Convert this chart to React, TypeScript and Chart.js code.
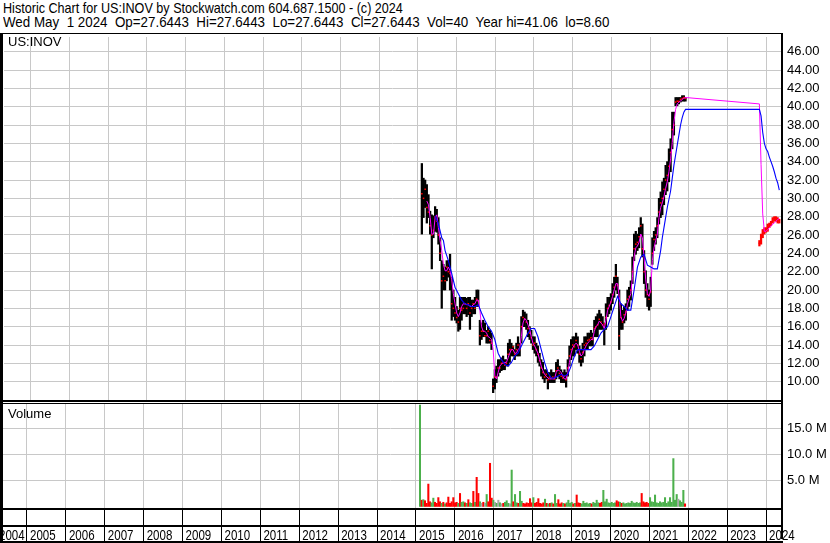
import React, { useEffect, useRef } from "react";
import { Chart, registerables } from "chart.js";

Chart.register(...registerables);

// ---------- text ----------
const TITLE_LINE_1 = "Historic Chart for US:INOV by Stockwatch.com 604.687.1500 - (c) 2024";
const TITLE_LINE_2 =
  "Wed May  1 2024  Op=27.6443  Hi=27.6443  Lo=27.6443  Cl=27.6443  Vol=40  Year hi=41.06  lo=8.60";
const SYMBOL = "US:INOV";
const VOLUME_LABEL = "Volume";

// ---------- axes ----------
const YEARS = [2004, 2005, 2006, 2007, 2008, 2009, 2010, 2011, 2012, 2013, 2014, 2015, 2016, 2017, 2018, 2019, 2020, 2021, 2022, 2023, 2024];
const PRICE_TICKS = [10, 12, 14, 16, 18, 20, 22, 24, 26, 28, 30, 32, 34, 36, 38, 40, 42, 44, 46];
const VOLUME_TICKS = [5, 10, 15];
const X_MIN = 2004.306;
const X_MAX = 2024.409;
const PRICE_MIN = 8;
const PRICE_MAX = 47.6;
const VOL_MIN = -0.3;
const VOL_MAX = 19.7;

// ---------- sampling dates (decimal years, roughly every two weeks) ----------
const MAIN_START = 2015.103;
const LATE_START = 2023.825;
const SAMPLE_STEP = 0.04285;

// ---------- main trading period (2015 - 2021) ----------
const MAIN_HIGH = [
  33.8, 32.2, 32.0, 31.5, 30.4, 28.6, 28.2, 28.1, 29.1, 28.8,
  27.9, 25.7, 23.2, 22.8, 22.5, 23.2, 23.2, 23.9, 21.4, 20.0,
  19.2, 18.2, 17.8, 19.2, 19.2, 19.2, 19.2, 19.1, 19.2, 19.2,
  18.9, 18.9, 19.2, 20.0, 20.0, 16.7, 16.4, 16.7, 16.4, 15.6,
  16.0, 15.6, 15.3, 10.3, 11.3, 11.7, 12.4, 12.4, 12.6, 12.8,
  12.4, 12.4, 14.2, 14.6, 14.2, 13.9, 13.5, 14.2, 14.9, 14.2,
  17.1, 17.8, 17.6, 17.4, 16.7, 16.0, 15.6, 14.9, 14.9, 14.2,
  13.9, 13.1, 12.4, 12.1, 11.3, 11.3, 11.0, 11.0, 11.3, 11.0,
  11.0, 12.1, 12.4, 11.7, 11.3, 11.0, 11.3, 11.0, 12.4, 13.9,
  14.6, 14.9, 14.9, 15.3, 14.9, 13.9, 13.5, 14.2, 14.9, 14.9,
  15.3, 15.3, 15.6, 15.3, 16.7, 17.1, 17.4, 17.8, 17.4, 17.1,
  16.4, 18.5, 19.2, 19.2, 19.6, 20.7, 21.4, 22.8, 21.4, 20.0,
  18.5, 17.8, 18.2, 18.5, 20.0, 20.3, 21.0, 23.6, 26.1, 26.4,
  26.1, 26.8, 27.9, 27.2, 24.3, 22.1, 20.7, 20.0, 21.4, 25.7,
  26.4, 26.8, 27.9, 30.0, 30.7, 31.8, 32.2, 33.6, 34.0, 35.4,
  36.5, 39.4, 39.4, 41.0, 41.0, 41.0, 41.0, 41.2, 41.2, 41.0,
];
const MAIN_LOW = [
  26.1, 27.9, 29.0, 27.3, 27.9, 26.1, 22.3, 25.7, 26.4, 26.3,
  25.0, 23.2, 18.0, 20.0, 20.0, 21.0, 21.4, 20.0, 16.7, 17.1,
  16.7, 16.4, 15.5, 15.7, 16.7, 17.4, 17.4, 17.1, 17.3, 15.7,
  17.1, 17.4, 17.4, 18.2, 18.2, 14.0, 14.6, 14.9, 14.9, 14.2,
  14.2, 14.2, 13.5, 8.8, 9.2, 9.9, 10.6, 11.0, 11.2, 11.3,
  11.3, 11.7, 11.7, 12.1, 12.8, 12.8, 12.4, 12.8, 12.8, 12.8,
  14.2, 16.0, 16.0, 15.7, 14.9, 14.6, 14.2, 13.5, 13.1, 12.8,
  12.1, 11.7, 10.6, 10.3, 9.9, 10.3, 9.2, 9.9, 9.9, 9.9,
  9.9, 10.3, 10.6, 10.3, 9.9, 9.9, 9.9, 9.4, 10.6, 11.7,
  12.4, 12.8, 12.8, 13.5, 13.1, 12.1, 11.7, 12.1, 12.8, 13.5,
  13.5, 13.9, 13.9, 13.9, 14.9, 14.9, 14.9, 15.7, 15.7, 15.7,
  14.0, 15.7, 17.1, 17.4, 17.8, 18.5, 19.2, 20.0, 19.6, 13.5,
  15.7, 15.7, 16.4, 16.7, 17.8, 18.2, 18.9, 20.7, 23.2, 23.9,
  24.3, 24.6, 26.1, 23.6, 20.7, 19.2, 18.2, 17.8, 18.2, 22.8,
  24.3, 25.0, 25.7, 27.2, 27.9, 28.2, 29.3, 30.4, 30.8, 31.8,
  32.9, 35.4, 36.9, 40.1, 40.1, 40.3, 40.5, 40.6, 40.6, 40.6,
];
const MAIN_CLOSE = [
  30.5, 30.0, 31.0, 29.0, 28.5, 27.0, 26.0, 26.5, 28.0, 27.5,
  26.0, 24.0, 21.0, 21.5, 21.0, 22.5, 22.0, 21.8, 18.5, 18.0,
  17.5, 17.0, 16.5, 18.0, 17.8, 18.0, 18.5, 18.0, 18.5, 17.5,
  18.0, 18.5, 18.0, 19.0, 18.8, 15.0, 15.5, 15.5, 15.0, 15.0,
  15.5, 14.5, 14.2, 9.5, 10.5, 10.5, 11.5, 11.5, 12.0, 12.0,
  11.8, 12.0, 13.0, 13.5, 13.5, 13.8, 13.0, 13.5, 14.0, 13.5,
  16.0, 17.0, 16.8, 16.5, 15.8, 15.3, 14.8, 14.0, 14.2, 13.5,
  13.0, 12.3, 11.5, 11.0, 10.5, 10.8, 10.2, 10.5, 10.4, 10.5,
  10.3, 11.2, 11.5, 10.9, 10.6, 10.4, 10.6, 10.2, 11.5, 12.8,
  13.5, 14.0, 13.8, 14.5, 14.0, 13.0, 12.5, 13.2, 14.0, 14.2,
  14.5, 14.6, 14.8, 14.6, 15.8, 16.0, 16.2, 16.8, 16.5, 16.2,
  16.3, 17.0, 18.0, 18.3, 18.7, 19.5, 20.3, 21.5, 20.5, 15.0,
  17.0, 16.5, 17.3, 17.6, 19.0, 19.3, 20.0, 22.0, 24.5, 25.0,
  25.2, 25.8, 27.0, 24.5, 22.0, 20.0, 19.5, 19.0, 19.8, 24.0,
  25.5, 26.0, 27.0, 28.5, 29.5, 30.0, 31.0, 32.0, 32.5, 33.5,
  35.0, 37.5, 38.0, 40.5, 40.6, 40.6, 40.8, 40.9, 41.0, 40.9,
];
// volume in millions of shares
const MAIN_VOLUME = [
  19.5, 1.2, 1.3, 1.1, 0.6, 4.3, 0.9, 0.7, 1.6, 0.8,
  0.6, 1.7, 0.9, 0.6, 0.8, 0.5, 0.7, 1.8, 0.6, 0.9,
  1.7, 0.7, 0.8, 0.6, 2.5, 0.8, 0.9, 0.7, 0.6, 1.3,
  0.7, 0.6, 2.9, 0.8, 5.6, 2.5, 0.9, 0.6, 0.8, 0.6,
  2.3, 0.9, 8.3, 1.6, 1.2, 0.8, 0.6, 1.2, 0.7, 0.5,
  0.6, 0.8, 1.1, 0.6, 0.5, 7.0, 0.9, 2.3, 0.7, 0.6,
  2.9, 1.0, 0.6, 0.5, 0.7, 0.6, 1.5, 0.7, 1.7, 0.6,
  0.8, 1.5, 0.6, 0.5, 0.7, 1.4, 0.6, 0.5, 0.6, 0.7,
  0.5, 2.3, 0.6, 1.3, 0.5, 0.7, 0.6, 0.5, 0.7, 1.2,
  0.6, 0.8, 0.5, 0.6, 2.2, 0.7, 0.6, 0.5, 1.0, 0.6,
  0.7, 0.5, 0.6, 0.5, 0.8, 0.6, 1.2, 0.7, 0.6, 0.8,
  3.1, 0.9, 1.4, 0.7, 0.6, 0.8, 0.6, 0.7, 1.1, 0.9,
  0.8, 0.6, 0.7, 0.5, 0.6, 0.7, 0.6, 1.0, 0.7, 0.6,
  0.8, 0.6, 0.7, 2.5, 0.9, 0.7, 0.8, 0.6, 1.7, 0.9,
  0.8, 2.2, 0.7, 0.6, 0.9, 0.7, 0.8, 1.7, 0.6, 0.9,
  1.7, 0.8, 9.2, 1.2, 2.3, 1.4, 1.1, 0.8, 3.1, 0.5,
];
// short moving average (magenta)
const MAIN_MA_SHORT = [
  null, null, null, 29.7, 29.3, 27.9, 26.1, 26.1, 27.9, 28.2,
  26.8, 25.4, 24.3, 22.8, 22.1, 22.1, 22.5, 22.1, 21.1, 19.6,
  18.5, 17.5, 17.1, 17.5, 18.2, 18.5, 18.5, 18.4, 18.4, 18.2,
  18.2, 18.4, 18.5, 18.9, 18.9, 17.8, 16.0, 15.5, 15.5, 15.3,
  14.9, 14.8, 14.6, 13.5, 10.6, 10.3, 11.0, 11.7, 11.9, 12.1,
  12.1, 12.1, 12.6, 13.1, 13.5, 13.5, 13.1, 13.1, 13.5, 13.7,
  14.9, 16.4, 16.9, 16.7, 16.2, 15.7, 14.9, 14.2, 13.9, 13.5,
  13.1, 12.4, 11.7, 11.2, 10.8, 10.6, 10.4, 10.3, 10.3, 10.3,
  10.3, 11.0, 11.3, 11.2, 11.0, 10.6, 10.3, 10.3, 11.0, 12.1,
  13.1, 13.7, 14.0, 14.2, 14.0, 13.3, 12.8, 13.0, 13.5, 13.9,
  14.2, 14.4, 14.6, 14.6, 15.5, 16.0, 16.2, 16.6, 16.4, 16.2,
  15.8, 16.7, 17.8, 18.2, 18.7, 19.3, 20.0, 20.7, 20.7, 19.3,
  17.1, 16.6, 16.9, 17.5, 18.5, 19.1, 19.6, 21.4, 23.6, 24.6,
  24.8, 25.2, 26.1, 25.7, 23.6, 21.1, 19.6, 19.3, 20.0, 23.2,
  24.6, 25.4, 26.1, 27.9, 29.0, 29.5, 30.2, 31.1, 31.8, 32.9,
  34.3, 36.1, 38.3, 39.7, 40.3, 40.5, 40.6, 40.8, 40.9, 41.0,
];
// long moving average (blue)
const MAIN_MA_LONG = [
  null, null, null, null, null, null, null, null, 28.1, null,
  27.2, null, 25.7, 25.4, 24.3, null, 23.2, null, 21.8, null,
  20.3, null, 19.6, null, 18.9, null, 18.5, null, 18.4, null,
  18.2, null, 18.2, null, 18.4, null, 17.5, null, 16.7, null,
  16.0, null, 15.5, null, 14.6, null, 13.1, null, 12.4, null,
  11.9, null, 11.7, null, 12.1, null, 12.8, null, 13.1, null,
  13.9, null, 14.6, null, 15.3, null, 15.8, null, 15.8, null,
  14.9, null, 13.5, null, 12.1, null, 11.0, null, 10.4, null,
  10.4, null, 10.6, null, 10.8, null, 10.6, null, 10.8, null,
  11.7, null, 12.8, null, 13.5, null, 13.5, null, 13.5, null,
  13.5, null, 13.5, null, 13.9, null, 14.6, null, 15.3, null,
  15.7, null, 16.0, null, 17.1, null, 18.2, null, 19.3, null,
  18.5, null, 18.2, null, 17.8, null, 17.8, null, 20.0, null,
  22.5, null, 23.6, null, 23.9, null, 22.7, null, 22.5, null,
  22.3, null, 22.3, null, 24.3, 25.7, 26.8, 27.9, 29.0, 29.9,
  30.8, 32.2, 33.6, 34.7, 35.8, 36.9, 38.0, 38.8, 39.4, 39.7,
];

// ---------- late trading period (2023 - 2024) ----------
const LATE_HIGH = [25.4, 26.1, 26.6, 26.8, 26.8, 27.2, 27.3, 27.5, 27.9, 28.0, 28.0, 27.9, 27.7];
const LATE_LOW = [24.8, 25.0, 25.7, 26.1, 26.3, 26.4, 26.8, 27.0, 27.3, 27.5, 27.5, 27.3, 27.3];
const LATE_CLOSE = [25.1, 25.8, 26.2, 26.5, 26.6, 26.9, 27.1, 27.3, 27.6, 27.8, 27.7, 27.5, 27.64];
const LATE_VOLUME = [0, 0, 0, 0, 0, 0, 0, 0, 0, 0, 0, 0, 0];
const LATE_MA_SHORT = [40.3, 33.7, 28.3, 26.4, 26.4, 26.6, 26.8, 27.0, 27.2, 27.3, 27.5, 27.7, 27.8];
const LATE_MA_LONG = [39.7, 39.0, 37.2, 36.0, 35.4, 35.1, 34.5, 34.0, 33.5, 32.9, 32.2, 31.7, 30.9];

// ---------- styles ----------
const FONT = "'Liberation Sans', Arial, Helvetica, sans-serif";
const GRID = "#c8c8c8";
const UP = "#4cb04c";
const DOWN = "#ff0000";
const FLAT = "#a8a8a8";

const DATES = [
  ...MAIN_HIGH.map((_, i) => MAIN_START + i * SAMPLE_STEP),
  ...LATE_HIGH.map((_, i) => LATE_START + i * SAMPLE_STEP),
];
const HIGH = [...MAIN_HIGH, ...LATE_HIGH];
const LOW = [...MAIN_LOW, ...LATE_LOW];
const CLOSE = [...MAIN_CLOSE, ...LATE_CLOSE];
const VOLUME = [...MAIN_VOLUME, ...LATE_VOLUME];
const MA_SHORT = [...MAIN_MA_SHORT, ...LATE_MA_SHORT];
const MA_LONG = [...MAIN_MA_LONG, ...LATE_MA_LONG];

const fixRightAxis = (scale: any) => {
  scale.width = 48;
  scale.paddingTop = 0;
  scale.paddingBottom = 0;
};
const yearTicks = (scale: any) => {
  scale.ticks = YEARS.map((v) => ({ value: v }));
};

const priceFrame = {
  id: "priceFrame",
  afterDraw(chart: any) {
    const ctx = chart.ctx;
    const h = chart.height;
    ctx.save();
    ctx.fillStyle = "#000";
    ctx.fillRect(0, 0, 782, 1);
    ctx.fillRect(0, 0, 3, h);
    ctx.fillRect(781, 0, 2, h);
    ctx.fillRect(0, 367, 783, 2);
    ctx.fillRect(0, 370, 783, 1);
    ctx.restore();
  },
};

const volumeFrame = {
  id: "volumeFrame",
  afterDraw(chart: any) {
    const ctx = chart.ctx;
    const h = chart.height;
    const xs = chart.scales.x;
    ctx.save();
    ctx.fillStyle = "#000";
    ctx.fillRect(0, 0, 3, h);
    ctx.fillRect(781, 0, 2, h - 4);
    ctx.fillRect(0, 104, 783, 2);
    ctx.fillRect(0, 121, 783, 2);
    ctx.fillRect(0, 137, 783, 2);
    ctx.font = `15px ${FONT}`;
    ctx.textBaseline = "alphabetic";
    ctx.textAlign = "left";
    for (const yr of YEARS) {
      let x = xs.getPixelForValue(yr) + 3;
      if (x < -1) x = -1;
      ctx.save();
      ctx.translate(x, 136);
      ctx.scale(0.77, 1);
      ctx.fillText(String(yr), 0, 0);
      ctx.restore();
    }
    ctx.restore();
  },
};

export default function App() {
  const priceRef = useRef<HTMLCanvasElement>(null);
  const volRef = useRef<HTMLCanvasElement>(null);

  useEffect(() => {
    const mainN = MAIN_HIGH.length;
    const rangePts = DATES.map((x, i) => ({ x, y: [LOW[i], HIGH[i]] }));
    const rangeColors = DATES.map((_, i) => (i >= mainN ? DOWN : "#000"));
    const closePts = DATES.map((x, i) => ({ x, y: CLOSE[i] }));
    const shortPts = DATES.map((x, i) => ({ x, y: MA_SHORT[i] }));
    const longPts = DATES.map((x, i) => ({ x, y: MA_LONG[i] }));
    const volColorsAll = CLOSE.map((c, i) => {
      if (i === 0) return UP;
      if (c > CLOSE[i - 1]) return UP;
      if (c < CLOSE[i - 1]) return DOWN;
      return FLAT;
    });
    const volIdx = DATES.map((_, i) => i).filter((i) => VOLUME[i] > 0);
    const volPts = volIdx.map((i) => ({ x: DATES[i], y: VOLUME[i] }));
    const volColors = volIdx.map((i) => volColorsAll[i]);

    const priceChart = new Chart(priceRef.current as HTMLCanvasElement, {
      type: "bar",
      data: {
        datasets: [
          {
            type: "line",
            data: longPts,
            borderColor: "#0000ff",
            borderWidth: 1.1,
            pointRadius: 0,
            spanGaps: true,
            order: 1,
          } as any,
          {
            type: "line",
            data: shortPts,
            borderColor: "#ff00ff",
            borderWidth: 1,
            pointRadius: 0,
            spanGaps: true,
            order: 2,
          } as any,
          {
            type: "line",
            data: closePts,
            showLine: false,
            pointStyle: "rect",
            pointRadius: 1.1,
            pointBackgroundColor: DOWN,
            pointBorderWidth: 0,
            order: 3,
          } as any,
          {
            type: "bar",
            data: rangePts,
            backgroundColor: rangeColors,
            barThickness: 1.6,
            grouped: false,
            borderWidth: 0,
            order: 4,
          } as any,
        ],
      },
      options: {
        responsive: false,
        animation: false,
        devicePixelRatio: 1,
        events: [],
        layout: { padding: { top: 1, bottom: 3, left: 0, right: 0 } },
        plugins: { legend: { display: false }, tooltip: { enabled: false } },
        scales: {
          x: {
            type: "linear",
            min: X_MIN,
            max: X_MAX,
            offset: false,
            afterBuildTicks: yearTicks,
            afterFit: (s: any) => {
              s.height = 0;
            },
            ticks: { display: false },
            grid: { color: GRID, drawTicks: false, offset: false },
            border: { display: false },
          },
          y: {
            type: "linear",
            position: "right",
            min: PRICE_MIN,
            max: PRICE_MAX,
            afterBuildTicks: (s: any) => {
              s.ticks = PRICE_TICKS.map((v) => ({ value: v }));
            },
            afterFit: fixRightAxis,
            ticks: {
              color: "#000",
              padding: 5,
              font: { family: FONT, size: 13 },
              callback: (v: any) => Number(v).toFixed(2),
            },
            grid: { color: GRID, drawTicks: false },
            border: { display: true, color: "#000", width: 2 },
          },
        },
      } as any,
      plugins: [priceFrame],
    });

    const volChart = new Chart(volRef.current as HTMLCanvasElement, {
      type: "bar",
      data: {
        datasets: [
          {
            data: volPts,
            backgroundColor: volColors,
            barThickness: 1.4,
            grouped: false,
            borderWidth: 0,
          } as any,
        ],
      },
      options: {
        responsive: false,
        animation: false,
        devicePixelRatio: 1,
        events: [],
        layout: { padding: 0 },
        plugins: { legend: { display: false }, tooltip: { enabled: false } },
        scales: {
          x: {
            type: "linear",
            min: X_MIN,
            max: X_MAX,
            offset: false,
            afterBuildTicks: yearTicks,
            afterFit: (s: any) => {
              s.height = 35;
            },
            ticks: { display: false },
            grid: {
              color: GRID,
              tickColor: "#000",
              drawTicks: true,
              tickLength: 35,
              tickWidth: 1,
              offset: false,
            },
            border: { display: false },
          },
          y: {
            type: "linear",
            position: "right",
            min: VOL_MIN,
            max: VOL_MAX,
            afterBuildTicks: (s: any) => {
              s.ticks = VOLUME_TICKS.map((v) => ({ value: v }));
            },
            afterFit: fixRightAxis,
            ticks: {
              color: "#000",
              padding: 5,
              font: { family: FONT, size: 13 },
              callback: (v: any) => `${Number(v).toFixed(1)} M`,
            },
            grid: { color: GRID, drawTicks: false },
            border: { display: true, color: "#000", width: 2 },
          },
        },
      } as any,
      plugins: [volumeFrame],
    });

    return () => {
      priceChart.destroy();
      volChart.destroy();
    };
  }, []);

  const textBase: React.CSSProperties = {
    position: "absolute",
    whiteSpace: "pre",
    color: "#000",
    fontFamily: FONT,
    transformOrigin: "0 0",
    zIndex: 2,
  };

  return (
    <div
      style={{
        position: "fixed",
        left: 0,
        top: 0,
        width: 830,
        height: 543,
        background: "#fff",
        overflow: "hidden",
      }}
    >
      <div style={{ ...textBase, left: 3, top: 1, fontSize: 15, lineHeight: "14px", transform: "scaleX(0.84)" }}>
        {TITLE_LINE_1}
      </div>
      <div style={{ ...textBase, left: 3, top: 14.5, fontSize: 15, lineHeight: "14px", transform: "scaleX(0.891)" }}>
        {TITLE_LINE_2}
      </div>
      <canvas ref={priceRef} width={830} height={371} style={{ position: "absolute", left: 0, top: 33 }} />
      <canvas ref={volRef} width={830} height={139} style={{ position: "absolute", left: 0, top: 404 }} />
      <div style={{ ...textBase, left: 8, top: 34.7, fontSize: 13, lineHeight: "13px" }}>{SYMBOL}</div>
      <div style={{ ...textBase, left: 8, top: 406.7, fontSize: 13, lineHeight: "13px" }}>{VOLUME_LABEL}</div>
    </div>
  );
}
